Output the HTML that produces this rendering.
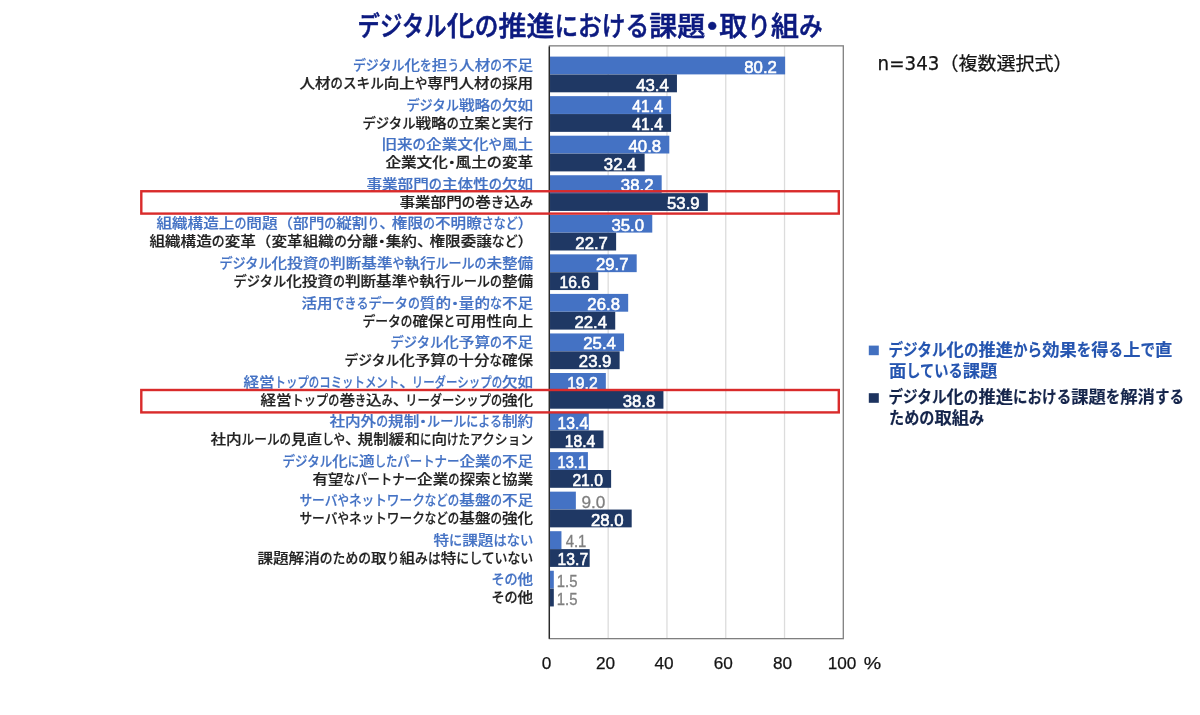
<!DOCTYPE html>
<html lang="ja">
<head>
<meta charset="utf-8">
<title>デジタル化の推進における課題・取り組み</title>
<style>
html,body{margin:0;padding:0;background:#fff;}
body{width:1200px;height:715px;overflow:hidden;}
svg{display:block;font-family:"Liberation Sans","Noto Sans CJK JP",sans-serif;will-change:transform;}
</style>
</head>
<body>
<svg width="1200" height="715" viewBox="0 0 1200 715">
<rect x="0" y="0" width="1200" height="715" fill="#ffffff"/>
<g id="title">
<text aria-label="デジタル化の推進における課題・取り組み" x="357.60" y="35.80" fill="#0c1a80" font-size="27.60" font-weight="500" stroke="#0c1a80" stroke-width="0.55"><tspan x="357.60" textLength="89.11" lengthAdjust="spacingAndGlyphs">デジタル</tspan><tspan x="446.71" textLength="28.00" lengthAdjust="spacingAndGlyphs">化</tspan><tspan x="474.71" textLength="23.70" lengthAdjust="spacingAndGlyphs">の</tspan><tspan x="498.41" textLength="56.00" lengthAdjust="spacingAndGlyphs">推進</tspan><tspan x="554.41" textLength="94.80" lengthAdjust="spacingAndGlyphs">における</tspan><tspan x="649.20" textLength="56.00" lengthAdjust="spacingAndGlyphs">課題</tspan><tspan x="698.20" textLength="28.00" lengthAdjust="spacingAndGlyphs" font-weight="900">・</tspan><tspan x="719.20" textLength="28.00" lengthAdjust="spacingAndGlyphs">取</tspan><tspan x="747.20" textLength="23.70" lengthAdjust="spacingAndGlyphs">り</tspan><tspan x="770.90" textLength="28.00" lengthAdjust="spacingAndGlyphs">組</tspan><tspan x="798.90" textLength="23.70" lengthAdjust="spacingAndGlyphs">み</tspan></text>
</g>
<g id="plot">
<line x1="608.18" y1="45.85" x2="608.18" y2="638.65" stroke="#dcdcdc" stroke-width="1.3"/>
<line x1="666.96" y1="45.85" x2="666.96" y2="638.65" stroke="#dcdcdc" stroke-width="1.3"/>
<line x1="725.74" y1="45.85" x2="725.74" y2="638.65" stroke="#dcdcdc" stroke-width="1.3"/>
<line x1="784.52" y1="45.85" x2="784.52" y2="638.65" stroke="#dcdcdc" stroke-width="1.3"/>
<rect x="549.40" y="56.60" width="235.71" height="17.80" fill="#4472c4"/>
<rect x="549.40" y="74.50" width="127.55" height="17.80" fill="#1f3864"/>
<rect x="549.40" y="96.15" width="121.67" height="17.80" fill="#4472c4"/>
<rect x="549.40" y="114.05" width="121.67" height="17.80" fill="#1f3864"/>
<rect x="549.40" y="135.70" width="119.91" height="17.80" fill="#4472c4"/>
<rect x="549.40" y="153.60" width="95.22" height="17.80" fill="#1f3864"/>
<rect x="549.40" y="175.25" width="112.27" height="17.80" fill="#4472c4"/>
<rect x="549.40" y="193.15" width="158.41" height="17.80" fill="#1f3864"/>
<rect x="549.40" y="214.80" width="102.87" height="17.80" fill="#4472c4"/>
<rect x="549.40" y="232.70" width="66.72" height="17.80" fill="#1f3864"/>
<rect x="549.40" y="254.35" width="87.29" height="17.80" fill="#4472c4"/>
<rect x="549.40" y="272.25" width="48.79" height="17.80" fill="#1f3864"/>
<rect x="549.40" y="293.90" width="78.77" height="17.80" fill="#4472c4"/>
<rect x="549.40" y="311.80" width="65.83" height="17.80" fill="#1f3864"/>
<rect x="549.40" y="333.45" width="74.65" height="17.80" fill="#4472c4"/>
<rect x="549.40" y="351.35" width="70.24" height="17.80" fill="#1f3864"/>
<rect x="549.40" y="373.00" width="56.43" height="17.80" fill="#4472c4"/>
<rect x="549.40" y="390.90" width="114.03" height="17.80" fill="#1f3864"/>
<rect x="549.40" y="412.55" width="39.38" height="17.80" fill="#4472c4"/>
<rect x="549.40" y="430.45" width="54.08" height="17.80" fill="#1f3864"/>
<rect x="549.40" y="452.10" width="38.50" height="17.80" fill="#4472c4"/>
<rect x="549.40" y="470.00" width="61.72" height="17.80" fill="#1f3864"/>
<rect x="549.40" y="491.65" width="26.45" height="17.80" fill="#4472c4"/>
<rect x="549.40" y="509.55" width="82.29" height="17.80" fill="#1f3864"/>
<rect x="549.40" y="531.20" width="12.05" height="17.80" fill="#4472c4"/>
<rect x="549.40" y="549.10" width="40.26" height="17.80" fill="#1f3864"/>
<rect x="549.40" y="570.75" width="4.41" height="17.80" fill="#4472c4"/>
<rect x="549.40" y="588.65" width="4.41" height="17.80" fill="#1f3864"/>
<rect x="549.40" y="45.85" width="293.90" height="592.80" fill="none" stroke="#7f7f7f" stroke-width="1.3"/>
<line x1="549.30" y1="46.45" x2="549.30" y2="638.65" stroke="#262626" stroke-width="1.3"/>
</g>
<g id="labels">
<text aria-label="デジタル化を担う人材の不足" x="352.90" y="70.20" fill="#4472c4" font-size="14.10" font-weight="500" stroke="#4472c4" stroke-width="0.2"><tspan x="352.90" textLength="51.61" lengthAdjust="spacingAndGlyphs">デジタル</tspan><tspan x="404.51" textLength="15.60" lengthAdjust="spacingAndGlyphs">化</tspan><tspan x="420.11" textLength="11.70" lengthAdjust="spacingAndGlyphs">を</tspan><tspan x="431.81" textLength="15.60" lengthAdjust="spacingAndGlyphs">担</tspan><tspan x="447.41" textLength="11.70" lengthAdjust="spacingAndGlyphs">う</tspan><tspan x="459.10" textLength="31.20" lengthAdjust="spacingAndGlyphs">人材</tspan><tspan x="490.30" textLength="11.70" lengthAdjust="spacingAndGlyphs">の</tspan><tspan x="502.00" textLength="31.20" lengthAdjust="spacingAndGlyphs">不足</tspan></text>
<text aria-label="人材のスキル向上や専門人材の採用" x="299.40" y="88.25" fill="#222222" font-size="14.10" font-weight="500" stroke="#222222" stroke-width="0.2"><tspan x="299.40" textLength="31.20" lengthAdjust="spacingAndGlyphs">人材</tspan><tspan x="330.60" textLength="12.33" lengthAdjust="spacingAndGlyphs">の</tspan><tspan x="342.93" textLength="40.81" lengthAdjust="spacingAndGlyphs">スキル</tspan><tspan x="383.74" textLength="31.20" lengthAdjust="spacingAndGlyphs">向上</tspan><tspan x="414.94" textLength="12.33" lengthAdjust="spacingAndGlyphs">や</tspan><tspan x="427.27" textLength="62.40" lengthAdjust="spacingAndGlyphs">専門人材</tspan><tspan x="489.67" textLength="12.33" lengthAdjust="spacingAndGlyphs">の</tspan><tspan x="502.00" textLength="31.20" lengthAdjust="spacingAndGlyphs">採用</tspan></text>
<text aria-label="デジタル戦略の欠如" x="406.40" y="109.75" fill="#4472c4" font-size="14.10" font-weight="500" stroke="#4472c4" stroke-width="0.2"><tspan x="406.40" textLength="52.50" lengthAdjust="spacingAndGlyphs">デジタル</tspan><tspan x="458.90" textLength="31.20" lengthAdjust="spacingAndGlyphs">戦略</tspan><tspan x="490.10" textLength="11.90" lengthAdjust="spacingAndGlyphs">の</tspan><tspan x="502.00" textLength="31.20" lengthAdjust="spacingAndGlyphs">欠如</tspan></text>
<text aria-label="デジタル戦略の立案と実行" x="362.40" y="127.80" fill="#222222" font-size="14.10" font-weight="500" stroke="#222222" stroke-width="0.2"><tspan x="362.40" textLength="53.12" lengthAdjust="spacingAndGlyphs">デジタル</tspan><tspan x="415.52" textLength="31.20" lengthAdjust="spacingAndGlyphs">戦略</tspan><tspan x="446.72" textLength="12.04" lengthAdjust="spacingAndGlyphs">の</tspan><tspan x="458.76" textLength="31.20" lengthAdjust="spacingAndGlyphs">立案</tspan><tspan x="489.96" textLength="12.04" lengthAdjust="spacingAndGlyphs">と</tspan><tspan x="502.00" textLength="31.20" lengthAdjust="spacingAndGlyphs">実行</tspan></text>
<text aria-label="旧来の企業文化や風土" x="381.40" y="149.30" fill="#4472c4" font-size="14.10" font-weight="500" stroke="#4472c4" stroke-width="0.2"><tspan x="381.40" textLength="31.20" lengthAdjust="spacingAndGlyphs">旧来</tspan><tspan x="412.60" textLength="13.50" lengthAdjust="spacingAndGlyphs">の</tspan><tspan x="426.10" textLength="62.40" lengthAdjust="spacingAndGlyphs">企業文化</tspan><tspan x="488.50" textLength="13.50" lengthAdjust="spacingAndGlyphs">や</tspan><tspan x="502.00" textLength="31.20" lengthAdjust="spacingAndGlyphs">風土</tspan></text>
<text aria-label="企業文化・風土の変革" x="385.40" y="167.35" fill="#222222" font-size="14.10" font-weight="500" stroke="#222222" stroke-width="0.2"><tspan x="385.40" textLength="62.40" lengthAdjust="spacingAndGlyphs">企業文化</tspan><tspan x="443.90" textLength="15.60" lengthAdjust="spacingAndGlyphs" font-weight="500">・</tspan><tspan x="455.60" textLength="31.20" lengthAdjust="spacingAndGlyphs">風土</tspan><tspan x="486.80" textLength="15.20" lengthAdjust="spacingAndGlyphs">の</tspan><tspan x="502.00" textLength="31.20" lengthAdjust="spacingAndGlyphs">変革</tspan></text>
<text aria-label="事業部門の主体性の欠如" x="366.40" y="188.85" fill="#4472c4" font-size="14.10" font-weight="500" stroke="#4472c4" stroke-width="0.2"><tspan x="366.40" textLength="62.40" lengthAdjust="spacingAndGlyphs">事業部門</tspan><tspan x="428.80" textLength="13.20" lengthAdjust="spacingAndGlyphs">の</tspan><tspan x="442.00" textLength="46.80" lengthAdjust="spacingAndGlyphs">主体性</tspan><tspan x="488.80" textLength="13.20" lengthAdjust="spacingAndGlyphs">の</tspan><tspan x="502.00" textLength="31.20" lengthAdjust="spacingAndGlyphs">欠如</tspan></text>
<text aria-label="事業部門の巻き込み" x="399.40" y="206.90" fill="#222222" font-size="14.10" font-weight="500" stroke="#222222" stroke-width="0.2"><tspan x="399.40" textLength="62.40" lengthAdjust="spacingAndGlyphs">事業部門</tspan><tspan x="461.80" textLength="13.40" lengthAdjust="spacingAndGlyphs">の</tspan><tspan x="475.20" textLength="15.60" lengthAdjust="spacingAndGlyphs">巻</tspan><tspan x="490.80" textLength="13.40" lengthAdjust="spacingAndGlyphs">き</tspan><tspan x="504.20" textLength="15.60" lengthAdjust="spacingAndGlyphs">込</tspan><tspan x="519.80" textLength="13.40" lengthAdjust="spacingAndGlyphs">み</tspan></text>
<text aria-label="組織構造上の問題（部門の縦割り、権限の不明瞭さなど）" x="156.40" y="228.40" fill="#4472c4" font-size="14.10" font-weight="500" stroke="#4472c4" stroke-width="0.2"><tspan x="156.40" textLength="78.00" lengthAdjust="spacingAndGlyphs">組織構造上</tspan><tspan x="234.40" textLength="11.93" lengthAdjust="spacingAndGlyphs">の</tspan><tspan x="246.33" textLength="31.20" lengthAdjust="spacingAndGlyphs">問題</tspan><tspan x="277.53" textLength="15.60" lengthAdjust="spacingAndGlyphs">（</tspan><tspan x="293.13" textLength="31.20" lengthAdjust="spacingAndGlyphs">部門</tspan><tspan x="324.33" textLength="11.93" lengthAdjust="spacingAndGlyphs">の</tspan><tspan x="336.26" textLength="31.20" lengthAdjust="spacingAndGlyphs">縦割</tspan><tspan x="367.46" textLength="11.93" lengthAdjust="spacingAndGlyphs">り</tspan><tspan x="379.39" textLength="15.60" lengthAdjust="spacingAndGlyphs">、</tspan><tspan x="391.87" textLength="31.20" lengthAdjust="spacingAndGlyphs">権限</tspan><tspan x="423.07" textLength="11.93" lengthAdjust="spacingAndGlyphs">の</tspan><tspan x="435.01" textLength="46.80" lengthAdjust="spacingAndGlyphs">不明瞭</tspan><tspan x="481.81" textLength="35.79" lengthAdjust="spacingAndGlyphs">さなど</tspan><tspan x="517.60" textLength="15.60" lengthAdjust="spacingAndGlyphs">）</tspan></text>
<text aria-label="組織構造の変革（変革組織の分離・集約、権限委譲など）" x="149.40" y="246.45" fill="#222222" font-size="14.10" font-weight="500" stroke="#222222" stroke-width="0.2"><tspan x="149.40" textLength="62.40" lengthAdjust="spacingAndGlyphs">組織構造</tspan><tspan x="211.80" textLength="12.88" lengthAdjust="spacingAndGlyphs">の</tspan><tspan x="224.68" textLength="31.20" lengthAdjust="spacingAndGlyphs">変革</tspan><tspan x="255.88" textLength="15.60" lengthAdjust="spacingAndGlyphs">（</tspan><tspan x="271.48" textLength="62.40" lengthAdjust="spacingAndGlyphs">変革組織</tspan><tspan x="333.88" textLength="12.88" lengthAdjust="spacingAndGlyphs">の</tspan><tspan x="346.76" textLength="31.20" lengthAdjust="spacingAndGlyphs">分離</tspan><tspan x="374.06" textLength="15.60" lengthAdjust="spacingAndGlyphs" font-weight="500">・</tspan><tspan x="385.76" textLength="31.20" lengthAdjust="spacingAndGlyphs">集約</tspan><tspan x="416.96" textLength="15.60" lengthAdjust="spacingAndGlyphs">、</tspan><tspan x="429.44" textLength="62.40" lengthAdjust="spacingAndGlyphs">権限委譲</tspan><tspan x="491.84" textLength="25.76" lengthAdjust="spacingAndGlyphs">など</tspan><tspan x="517.60" textLength="15.60" lengthAdjust="spacingAndGlyphs">）</tspan></text>
<text aria-label="デジタル化投資の判断基準や執行ルールの未整備" x="219.40" y="267.95" fill="#4472c4" font-size="14.10" font-weight="500" stroke="#4472c4" stroke-width="0.2"><tspan x="219.40" textLength="52.10" lengthAdjust="spacingAndGlyphs">デジタル</tspan><tspan x="271.50" textLength="46.80" lengthAdjust="spacingAndGlyphs">化投資</tspan><tspan x="318.30" textLength="11.81" lengthAdjust="spacingAndGlyphs">の</tspan><tspan x="330.11" textLength="62.40" lengthAdjust="spacingAndGlyphs">判断基準</tspan><tspan x="392.51" textLength="11.81" lengthAdjust="spacingAndGlyphs">や</tspan><tspan x="404.32" textLength="31.20" lengthAdjust="spacingAndGlyphs">執行</tspan><tspan x="435.52" textLength="39.08" lengthAdjust="spacingAndGlyphs">ルール</tspan><tspan x="474.59" textLength="11.81" lengthAdjust="spacingAndGlyphs">の</tspan><tspan x="486.40" textLength="46.80" lengthAdjust="spacingAndGlyphs">未整備</tspan></text>
<text aria-label="デジタル化投資の判断基準や執行ルールの整備" x="233.40" y="286.00" fill="#222222" font-size="14.10" font-weight="500" stroke="#222222" stroke-width="0.2"><tspan x="233.40" textLength="52.76" lengthAdjust="spacingAndGlyphs">デジタル</tspan><tspan x="286.16" textLength="46.80" lengthAdjust="spacingAndGlyphs">化投資</tspan><tspan x="332.96" textLength="11.96" lengthAdjust="spacingAndGlyphs">の</tspan><tspan x="344.92" textLength="62.40" lengthAdjust="spacingAndGlyphs">判断基準</tspan><tspan x="407.32" textLength="11.96" lengthAdjust="spacingAndGlyphs">や</tspan><tspan x="419.27" textLength="31.20" lengthAdjust="spacingAndGlyphs">執行</tspan><tspan x="450.47" textLength="39.57" lengthAdjust="spacingAndGlyphs">ルール</tspan><tspan x="490.04" textLength="11.96" lengthAdjust="spacingAndGlyphs">の</tspan><tspan x="502.00" textLength="31.20" lengthAdjust="spacingAndGlyphs">整備</tspan></text>
<text aria-label="活用できるデータの質的・量的な不足" x="301.40" y="307.50" fill="#4472c4" font-size="14.10" font-weight="500" stroke="#4472c4" stroke-width="0.2"><tspan x="301.40" textLength="31.20" lengthAdjust="spacingAndGlyphs">活用</tspan><tspan x="332.60" textLength="35.82" lengthAdjust="spacingAndGlyphs">できる</tspan><tspan x="368.42" textLength="39.51" lengthAdjust="spacingAndGlyphs">データ</tspan><tspan x="407.92" textLength="11.94" lengthAdjust="spacingAndGlyphs">の</tspan><tspan x="419.86" textLength="31.20" lengthAdjust="spacingAndGlyphs">質的</tspan><tspan x="447.16" textLength="15.60" lengthAdjust="spacingAndGlyphs" font-weight="500">・</tspan><tspan x="458.86" textLength="31.20" lengthAdjust="spacingAndGlyphs">量的</tspan><tspan x="490.06" textLength="11.94" lengthAdjust="spacingAndGlyphs">な</tspan><tspan x="502.00" textLength="31.20" lengthAdjust="spacingAndGlyphs">不足</tspan></text>
<text aria-label="データの確保と可用性向上" x="362.40" y="325.55" fill="#222222" font-size="14.10" font-weight="500" stroke="#222222" stroke-width="0.2"><tspan x="362.40" textLength="38.40" lengthAdjust="spacingAndGlyphs">データ</tspan><tspan x="400.80" textLength="11.60" lengthAdjust="spacingAndGlyphs">の</tspan><tspan x="412.40" textLength="31.20" lengthAdjust="spacingAndGlyphs">確保</tspan><tspan x="443.60" textLength="11.60" lengthAdjust="spacingAndGlyphs">と</tspan><tspan x="455.20" textLength="78.00" lengthAdjust="spacingAndGlyphs">可用性向上</tspan></text>
<text aria-label="デジタル化予算の不足" x="390.40" y="347.05" fill="#4472c4" font-size="14.10" font-weight="500" stroke="#4472c4" stroke-width="0.2"><tspan x="390.40" textLength="52.83" lengthAdjust="spacingAndGlyphs">デジタル</tspan><tspan x="443.23" textLength="46.80" lengthAdjust="spacingAndGlyphs">化予算</tspan><tspan x="490.03" textLength="11.97" lengthAdjust="spacingAndGlyphs">の</tspan><tspan x="502.00" textLength="31.20" lengthAdjust="spacingAndGlyphs">不足</tspan></text>
<text aria-label="デジタル化予算の十分な確保" x="344.40" y="365.10" fill="#222222" font-size="14.10" font-weight="500" stroke="#222222" stroke-width="0.2"><tspan x="344.40" textLength="54.77" lengthAdjust="spacingAndGlyphs">デジタル</tspan><tspan x="399.17" textLength="46.80" lengthAdjust="spacingAndGlyphs">化予算</tspan><tspan x="445.97" textLength="12.41" lengthAdjust="spacingAndGlyphs">の</tspan><tspan x="458.39" textLength="31.20" lengthAdjust="spacingAndGlyphs">十分</tspan><tspan x="489.59" textLength="12.41" lengthAdjust="spacingAndGlyphs">な</tspan><tspan x="502.00" textLength="31.20" lengthAdjust="spacingAndGlyphs">確保</tspan></text>
<text aria-label="経営トップのコミットメント、リーダーシップの欠如" x="243.40" y="386.60" fill="#4472c4" font-size="14.10" font-weight="500" stroke="#4472c4" stroke-width="0.2"><tspan x="243.40" textLength="31.20" lengthAdjust="spacingAndGlyphs">経営</tspan><tspan x="274.60" textLength="34.27" lengthAdjust="spacingAndGlyphs">トップ</tspan><tspan x="308.87" textLength="10.36" lengthAdjust="spacingAndGlyphs">の</tspan><tspan x="319.23" textLength="79.97" lengthAdjust="spacingAndGlyphs">コミットメント</tspan><tspan x="399.20" textLength="15.60" lengthAdjust="spacingAndGlyphs">、</tspan><tspan x="411.68" textLength="79.97" lengthAdjust="spacingAndGlyphs">リーダーシップ</tspan><tspan x="491.64" textLength="10.36" lengthAdjust="spacingAndGlyphs">の</tspan><tspan x="502.00" textLength="31.20" lengthAdjust="spacingAndGlyphs">欠如</tspan></text>
<text aria-label="経営トップの巻き込み、リーダーシップの強化" x="260.40" y="404.65" fill="#222222" font-size="14.10" font-weight="500" stroke="#222222" stroke-width="0.2"><tspan x="260.40" textLength="31.20" lengthAdjust="spacingAndGlyphs">経営</tspan><tspan x="291.60" textLength="36.71" lengthAdjust="spacingAndGlyphs">トップ</tspan><tspan x="328.31" textLength="11.09" lengthAdjust="spacingAndGlyphs">の</tspan><tspan x="339.40" textLength="15.60" lengthAdjust="spacingAndGlyphs">巻</tspan><tspan x="355.00" textLength="11.09" lengthAdjust="spacingAndGlyphs">き</tspan><tspan x="366.09" textLength="15.60" lengthAdjust="spacingAndGlyphs">込</tspan><tspan x="381.69" textLength="11.09" lengthAdjust="spacingAndGlyphs">み</tspan><tspan x="392.78" textLength="15.60" lengthAdjust="spacingAndGlyphs">、</tspan><tspan x="405.26" textLength="85.65" lengthAdjust="spacingAndGlyphs">リーダーシップ</tspan><tspan x="490.91" textLength="11.09" lengthAdjust="spacingAndGlyphs">の</tspan><tspan x="502.00" textLength="31.20" lengthAdjust="spacingAndGlyphs">強化</tspan></text>
<text aria-label="社内外の規制・ルールによる制約" x="329.40" y="426.15" fill="#4472c4" font-size="14.10" font-weight="500" stroke="#4472c4" stroke-width="0.2"><tspan x="329.40" textLength="46.80" lengthAdjust="spacingAndGlyphs">社内外</tspan><tspan x="376.20" textLength="11.88" lengthAdjust="spacingAndGlyphs">の</tspan><tspan x="388.08" textLength="31.20" lengthAdjust="spacingAndGlyphs">規制</tspan><tspan x="415.38" textLength="15.60" lengthAdjust="spacingAndGlyphs" font-weight="500">・</tspan><tspan x="427.08" textLength="39.30" lengthAdjust="spacingAndGlyphs">ルール</tspan><tspan x="466.37" textLength="35.63" lengthAdjust="spacingAndGlyphs">による</tspan><tspan x="502.00" textLength="31.20" lengthAdjust="spacingAndGlyphs">制約</tspan></text>
<text aria-label="社内ルールの見直しや、規制緩和に向けたアクション" x="210.40" y="444.20" fill="#222222" font-size="14.10" font-weight="500" stroke="#222222" stroke-width="0.2"><tspan x="210.40" textLength="31.20" lengthAdjust="spacingAndGlyphs">社内</tspan><tspan x="241.60" textLength="37.93" lengthAdjust="spacingAndGlyphs">ルール</tspan><tspan x="279.53" textLength="11.46" lengthAdjust="spacingAndGlyphs">の</tspan><tspan x="290.99" textLength="31.20" lengthAdjust="spacingAndGlyphs">見直</tspan><tspan x="322.19" textLength="22.92" lengthAdjust="spacingAndGlyphs">しや</tspan><tspan x="345.12" textLength="15.60" lengthAdjust="spacingAndGlyphs">、</tspan><tspan x="357.60" textLength="62.40" lengthAdjust="spacingAndGlyphs">規制緩和</tspan><tspan x="420.00" textLength="11.46" lengthAdjust="spacingAndGlyphs">に</tspan><tspan x="431.46" textLength="15.60" lengthAdjust="spacingAndGlyphs">向</tspan><tspan x="447.06" textLength="22.92" lengthAdjust="spacingAndGlyphs">けた</tspan><tspan x="469.98" textLength="63.22" lengthAdjust="spacingAndGlyphs">アクション</tspan></text>
<text aria-label="デジタル化に適したパートナー企業の不足" x="282.40" y="465.70" fill="#4472c4" font-size="14.10" font-weight="500" stroke="#4472c4" stroke-width="0.2"><tspan x="282.40" textLength="49.80" lengthAdjust="spacingAndGlyphs">デジタル</tspan><tspan x="332.20" textLength="15.60" lengthAdjust="spacingAndGlyphs">化</tspan><tspan x="347.80" textLength="11.29" lengthAdjust="spacingAndGlyphs">に</tspan><tspan x="359.09" textLength="15.60" lengthAdjust="spacingAndGlyphs">適</tspan><tspan x="374.69" textLength="22.57" lengthAdjust="spacingAndGlyphs">した</tspan><tspan x="397.26" textLength="62.25" lengthAdjust="spacingAndGlyphs">パートナー</tspan><tspan x="459.51" textLength="31.20" lengthAdjust="spacingAndGlyphs">企業</tspan><tspan x="490.71" textLength="11.29" lengthAdjust="spacingAndGlyphs">の</tspan><tspan x="502.00" textLength="31.20" lengthAdjust="spacingAndGlyphs">不足</tspan></text>
<text aria-label="有望なパートナー企業の探索と協業" x="312.40" y="483.75" fill="#222222" font-size="14.10" font-weight="500" stroke="#222222" stroke-width="0.2"><tspan x="312.40" textLength="31.20" lengthAdjust="spacingAndGlyphs">有望</tspan><tspan x="343.60" textLength="11.27" lengthAdjust="spacingAndGlyphs">な</tspan><tspan x="354.87" textLength="62.18" lengthAdjust="spacingAndGlyphs">パートナー</tspan><tspan x="417.05" textLength="31.20" lengthAdjust="spacingAndGlyphs">企業</tspan><tspan x="448.25" textLength="11.27" lengthAdjust="spacingAndGlyphs">の</tspan><tspan x="459.53" textLength="31.20" lengthAdjust="spacingAndGlyphs">探索</tspan><tspan x="490.73" textLength="11.27" lengthAdjust="spacingAndGlyphs">と</tspan><tspan x="502.00" textLength="31.20" lengthAdjust="spacingAndGlyphs">協業</tspan></text>
<text aria-label="サーバやネットワークなどの基盤の不足" x="299.40" y="505.25" fill="#4472c4" font-size="14.10" font-weight="500" stroke="#4472c4" stroke-width="0.2"><tspan x="299.40" textLength="38.00" lengthAdjust="spacingAndGlyphs">サーバ</tspan><tspan x="337.40" textLength="11.48" lengthAdjust="spacingAndGlyphs">や</tspan><tspan x="348.88" textLength="75.99" lengthAdjust="spacingAndGlyphs">ネットワーク</tspan><tspan x="424.87" textLength="34.45" lengthAdjust="spacingAndGlyphs">などの</tspan><tspan x="459.32" textLength="31.20" lengthAdjust="spacingAndGlyphs">基盤</tspan><tspan x="490.52" textLength="11.48" lengthAdjust="spacingAndGlyphs">の</tspan><tspan x="502.00" textLength="31.20" lengthAdjust="spacingAndGlyphs">不足</tspan></text>
<text aria-label="サーバやネットワークなどの基盤の強化" x="299.40" y="523.30" fill="#222222" font-size="14.10" font-weight="500" stroke="#222222" stroke-width="0.2"><tspan x="299.40" textLength="38.00" lengthAdjust="spacingAndGlyphs">サーバ</tspan><tspan x="337.40" textLength="11.48" lengthAdjust="spacingAndGlyphs">や</tspan><tspan x="348.88" textLength="75.99" lengthAdjust="spacingAndGlyphs">ネットワーク</tspan><tspan x="424.87" textLength="34.45" lengthAdjust="spacingAndGlyphs">などの</tspan><tspan x="459.32" textLength="31.20" lengthAdjust="spacingAndGlyphs">基盤</tspan><tspan x="490.52" textLength="11.48" lengthAdjust="spacingAndGlyphs">の</tspan><tspan x="502.00" textLength="31.20" lengthAdjust="spacingAndGlyphs">強化</tspan></text>
<text aria-label="特に課題はない" x="433.40" y="544.80" fill="#4472c4" font-size="14.10" font-weight="500" stroke="#4472c4" stroke-width="0.2"><tspan x="433.40" textLength="15.60" lengthAdjust="spacingAndGlyphs">特</tspan><tspan x="449.00" textLength="13.25" lengthAdjust="spacingAndGlyphs">に</tspan><tspan x="462.25" textLength="31.20" lengthAdjust="spacingAndGlyphs">課題</tspan><tspan x="493.45" textLength="39.75" lengthAdjust="spacingAndGlyphs">はない</tspan></text>
<text aria-label="課題解消のための取り組みは特にしていない" x="257.40" y="562.85" fill="#222222" font-size="14.10" font-weight="500" stroke="#222222" stroke-width="0.2"><tspan x="257.40" textLength="62.40" lengthAdjust="spacingAndGlyphs">課題解消</tspan><tspan x="319.80" textLength="51.26" lengthAdjust="spacingAndGlyphs">のための</tspan><tspan x="371.06" textLength="15.60" lengthAdjust="spacingAndGlyphs">取</tspan><tspan x="386.66" textLength="12.82" lengthAdjust="spacingAndGlyphs">り</tspan><tspan x="399.48" textLength="15.60" lengthAdjust="spacingAndGlyphs">組</tspan><tspan x="415.08" textLength="25.63" lengthAdjust="spacingAndGlyphs">みは</tspan><tspan x="440.71" textLength="15.60" lengthAdjust="spacingAndGlyphs">特</tspan><tspan x="456.31" textLength="76.89" lengthAdjust="spacingAndGlyphs">にしていない</tspan></text>
<text aria-label="その他" x="491.40" y="584.35" fill="#4472c4" font-size="14.10" font-weight="500" stroke="#4472c4" stroke-width="0.2"><tspan x="491.40" textLength="26.20" lengthAdjust="spacingAndGlyphs">その</tspan><tspan x="517.60" textLength="15.60" lengthAdjust="spacingAndGlyphs">他</tspan></text>
<text aria-label="その他" x="491.40" y="602.40" fill="#222222" font-size="14.10" font-weight="500" stroke="#222222" stroke-width="0.2"><tspan x="491.40" textLength="26.20" lengthAdjust="spacingAndGlyphs">その</tspan><tspan x="517.60" textLength="15.60" lengthAdjust="spacingAndGlyphs">他</tspan></text>
</g>
<g id="values" font-size="17.2">
<text x="776.91" y="72.60" fill="#ffffff" stroke="#ffffff" stroke-width="0.6" text-anchor="end" textLength="32.60" lengthAdjust="spacingAndGlyphs">80.2</text>
<text x="668.75" y="90.55" fill="#ffffff" stroke="#ffffff" stroke-width="0.6" text-anchor="end" textLength="32.60" lengthAdjust="spacingAndGlyphs">43.4</text>
<text x="662.87" y="112.15" fill="#ffffff" stroke="#ffffff" stroke-width="0.6" text-anchor="end" textLength="30.50" lengthAdjust="spacingAndGlyphs">41.4</text>
<text x="662.87" y="130.10" fill="#ffffff" stroke="#ffffff" stroke-width="0.6" text-anchor="end" textLength="30.50" lengthAdjust="spacingAndGlyphs">41.4</text>
<text x="661.11" y="151.70" fill="#ffffff" stroke="#ffffff" stroke-width="0.6" text-anchor="end" textLength="32.60" lengthAdjust="spacingAndGlyphs">40.8</text>
<text x="636.42" y="169.65" fill="#ffffff" stroke="#ffffff" stroke-width="0.6" text-anchor="end" textLength="32.60" lengthAdjust="spacingAndGlyphs">32.4</text>
<text x="653.47" y="191.25" fill="#ffffff" stroke="#ffffff" stroke-width="0.6" text-anchor="end" textLength="32.60" lengthAdjust="spacingAndGlyphs">38.2</text>
<text x="699.61" y="209.20" fill="#ffffff" stroke="#ffffff" stroke-width="0.6" text-anchor="end" textLength="32.60" lengthAdjust="spacingAndGlyphs">53.9</text>
<text x="644.06" y="230.80" fill="#ffffff" stroke="#ffffff" stroke-width="0.6" text-anchor="end" textLength="32.60" lengthAdjust="spacingAndGlyphs">35.0</text>
<text x="607.92" y="248.75" fill="#ffffff" stroke="#ffffff" stroke-width="0.6" text-anchor="end" textLength="32.60" lengthAdjust="spacingAndGlyphs">22.7</text>
<text x="628.49" y="270.35" fill="#ffffff" stroke="#ffffff" stroke-width="0.6" text-anchor="end" textLength="32.60" lengthAdjust="spacingAndGlyphs">29.7</text>
<text x="589.99" y="288.30" fill="#ffffff" stroke="#ffffff" stroke-width="0.6" text-anchor="end" textLength="30.50" lengthAdjust="spacingAndGlyphs">16.6</text>
<text x="619.97" y="309.90" fill="#ffffff" stroke="#ffffff" stroke-width="0.6" text-anchor="end" textLength="32.60" lengthAdjust="spacingAndGlyphs">26.8</text>
<text x="607.03" y="327.85" fill="#ffffff" stroke="#ffffff" stroke-width="0.6" text-anchor="end" textLength="32.60" lengthAdjust="spacingAndGlyphs">22.4</text>
<text x="615.85" y="349.45" fill="#ffffff" stroke="#ffffff" stroke-width="0.6" text-anchor="end" textLength="32.60" lengthAdjust="spacingAndGlyphs">25.4</text>
<text x="611.44" y="367.40" fill="#ffffff" stroke="#ffffff" stroke-width="0.6" text-anchor="end" textLength="32.60" lengthAdjust="spacingAndGlyphs">23.9</text>
<text x="597.63" y="389.00" fill="#ffffff" stroke="#ffffff" stroke-width="0.6" text-anchor="end" textLength="30.50" lengthAdjust="spacingAndGlyphs">19.2</text>
<text x="655.23" y="406.95" fill="#ffffff" stroke="#ffffff" stroke-width="0.6" text-anchor="end" textLength="32.60" lengthAdjust="spacingAndGlyphs">38.8</text>
<text x="588.10" y="428.55" fill="#ffffff" stroke="#ffffff" stroke-width="0.6" text-anchor="end" textLength="30.50" lengthAdjust="spacingAndGlyphs">13.4</text>
<text x="595.28" y="446.50" fill="#ffffff" stroke="#ffffff" stroke-width="0.6" text-anchor="end" textLength="30.50" lengthAdjust="spacingAndGlyphs">18.4</text>
<text x="586.00" y="468.10" fill="#ffffff" stroke="#ffffff" stroke-width="0.6" text-anchor="end" textLength="28.40" lengthAdjust="spacingAndGlyphs">13.1</text>
<text x="602.92" y="486.05" fill="#ffffff" stroke="#ffffff" stroke-width="0.6" text-anchor="end" textLength="30.50" lengthAdjust="spacingAndGlyphs">21.0</text>
<text x="581.45" y="507.65" fill="#7f7f7f" stroke="#7f7f7f" stroke-width="0.3" text-anchor="start" textLength="23.90" lengthAdjust="spacingAndGlyphs">9.0</text>
<text x="623.49" y="525.60" fill="#ffffff" stroke="#ffffff" stroke-width="0.6" text-anchor="end" textLength="32.60" lengthAdjust="spacingAndGlyphs">28.0</text>
<text x="565.65" y="547.20" fill="#7f7f7f" stroke="#7f7f7f" stroke-width="0.3" text-anchor="start" textLength="20.70" lengthAdjust="spacingAndGlyphs">4.1</text>
<text x="588.10" y="565.15" fill="#ffffff" stroke="#ffffff" stroke-width="0.6" text-anchor="end" textLength="30.50" lengthAdjust="spacingAndGlyphs">13.7</text>
<text x="556.81" y="586.75" fill="#7f7f7f" stroke="#7f7f7f" stroke-width="0.3" text-anchor="start" textLength="20.70" lengthAdjust="spacingAndGlyphs">1.5</text>
<text x="556.81" y="604.70" fill="#7f7f7f" stroke="#7f7f7f" stroke-width="0.3" text-anchor="start" textLength="20.70" lengthAdjust="spacingAndGlyphs">1.5</text>
</g>
<g id="highlight" fill="none" stroke="#d92b2b" stroke-width="2.4">
<rect x="141.3" y="191.25" width="697.5" height="22.35"/>
<rect x="141.3" y="390.00" width="697.5" height="22.40"/>
</g>
<g id="axis" font-size="17.2" fill="#141414" stroke="#141414" stroke-width="0.25" text-anchor="middle">
<text x="546.50" y="669.4">0</text>
<text x="605.50" y="669.4">20</text>
<text x="664.00" y="669.4">40</text>
<text x="723.30" y="669.4">60</text>
<text x="782.50" y="669.4">80</text>
<text x="842.00" y="669.4">100</text>
<text x="872.4" y="669.4" textLength="17.4" lengthAdjust="spacingAndGlyphs">%</text>
</g>
<text id="note" x="877.6" y="69.8" fill="#141414" stroke="#141414" stroke-width="0.25" font-size="18.4"><tspan style="font-family:'DejaVu Sans','Liberation Sans',sans-serif" font-size="20" textLength="61.8" lengthAdjust="spacingAndGlyphs">n=343</tspan><tspan x="939.4" textLength="133" lengthAdjust="spacingAndGlyphs">（複数選択式）</tspan></text>
<g id="legend">
<rect x="868.8" y="345.6" width="10" height="9.6" fill="#4270c0"/>
<rect x="868.8" y="393.2" width="10" height="9.6" fill="#1d335f"/>
<text aria-label="デジタル化の推進から効果を得る上で直" x="888.40" y="355.60" fill="#2555b0" font-size="16.70" font-weight="bold" stroke="#2555b0" stroke-width="0.15"><tspan x="888.40" textLength="58.20" lengthAdjust="spacingAndGlyphs">デジタル</tspan><tspan x="946.60" textLength="17.30" lengthAdjust="spacingAndGlyphs">化</tspan><tspan x="963.90" textLength="14.55" lengthAdjust="spacingAndGlyphs">の</tspan><tspan x="978.45" textLength="34.60" lengthAdjust="spacingAndGlyphs">推進</tspan><tspan x="1013.05" textLength="29.10" lengthAdjust="spacingAndGlyphs">から</tspan><tspan x="1042.15" textLength="34.60" lengthAdjust="spacingAndGlyphs">効果</tspan><tspan x="1076.75" textLength="14.55" lengthAdjust="spacingAndGlyphs">を</tspan><tspan x="1091.30" textLength="17.30" lengthAdjust="spacingAndGlyphs">得</tspan><tspan x="1108.60" textLength="14.55" lengthAdjust="spacingAndGlyphs">る</tspan><tspan x="1123.15" textLength="17.30" lengthAdjust="spacingAndGlyphs">上</tspan><tspan x="1140.45" textLength="14.55" lengthAdjust="spacingAndGlyphs">で</tspan><tspan x="1155.00" textLength="17.30" lengthAdjust="spacingAndGlyphs">直</tspan></text>
<text aria-label="面している課題" x="889.00" y="376.60" fill="#2555b0" font-size="16.70" font-weight="bold" stroke="#2555b0" stroke-width="0.15"><tspan x="889.00" textLength="17.30" lengthAdjust="spacingAndGlyphs">面</tspan><tspan x="906.30" textLength="56.40" lengthAdjust="spacingAndGlyphs">している</tspan><tspan x="962.70" textLength="34.60" lengthAdjust="spacingAndGlyphs">課題</tspan></text>
<text aria-label="デジタル化の推進における課題を解消する" x="888.40" y="403.30" fill="#15254b" font-size="16.70" font-weight="bold" stroke="#15254b" stroke-width="0.15"><tspan x="888.40" textLength="58.17" lengthAdjust="spacingAndGlyphs">デジタル</tspan><tspan x="946.57" textLength="17.30" lengthAdjust="spacingAndGlyphs">化</tspan><tspan x="963.87" textLength="14.54" lengthAdjust="spacingAndGlyphs">の</tspan><tspan x="978.41" textLength="34.60" lengthAdjust="spacingAndGlyphs">推進</tspan><tspan x="1013.01" textLength="58.17" lengthAdjust="spacingAndGlyphs">における</tspan><tspan x="1071.17" textLength="34.60" lengthAdjust="spacingAndGlyphs">課題</tspan><tspan x="1105.77" textLength="14.54" lengthAdjust="spacingAndGlyphs">を</tspan><tspan x="1120.32" textLength="34.60" lengthAdjust="spacingAndGlyphs">解消</tspan><tspan x="1154.92" textLength="29.08" lengthAdjust="spacingAndGlyphs">する</tspan></text>
<text aria-label="ための取組み" x="889.00" y="424.10" fill="#15254b" font-size="16.70" font-weight="bold" stroke="#15254b" stroke-width="0.15"><tspan x="889.00" textLength="45.45" lengthAdjust="spacingAndGlyphs">ための</tspan><tspan x="934.45" textLength="34.60" lengthAdjust="spacingAndGlyphs">取組</tspan><tspan x="969.05" textLength="15.15" lengthAdjust="spacingAndGlyphs">み</tspan></text>
</g>
</svg>
</body>
</html>
